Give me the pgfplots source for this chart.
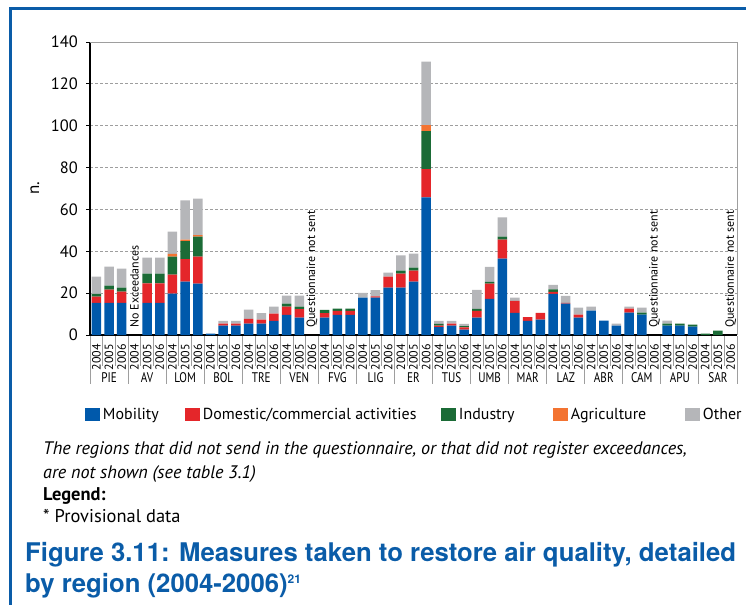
\documentclass[border=0pt]{standalone}
\usepackage{pgfplots}
\pgfplotsset{compat=1.18}
\usepackage{pgfplotstable}
\usepackage{fontspec}
\setmainfont{PT Sans}
\newfontfamily\capfont{TeX Gyre Heros}
\newfontfamily\condfont{PT Sans}[FakeStretch=0.8]
\definecolor{mob}{HTML}{0059AB}
\definecolor{dom}{HTML}{E4262A}
\definecolor{ind}{HTML}{1B6B36}
\definecolor{agr}{HTML}{F37331}
\definecolor{oth}{HTML}{B5B6B9}
\definecolor{capblue}{HTML}{0A5CA8}
\definecolor{sep}{HTML}{9E9E9E}

\pgfplotstableread{
x mob dom ind agr oth
0 15.3 3.0 1.3 0 8.3
1 15.3 6.4 1.9 0 9.1
2 15.3 5.4 1.9 0 9.1
3 0 0 0 0 0
4 15.3 9.4 4.6 0 7.7
5 15.3 9.4 4.6 0 7.7
6 19.8 9.1 8.6 1.3 10.6
7 25.5 10.7 8.6 0.8 18.7
8 24.6 12.9 9.5 0.7 17.5
9 0.6 0 0 0 0
10 4.5 0.9 0 0 1.3
11 4.5 0.9 0 0 1.3
12 5.4 2.3 0 0 4.4
13 5.4 1.9 0 0 3.2
14 6.7 3.5 0 0 3.4
15 9.6 4.0 1.4 0 3.8
16 8.3 4.1 1.2 0 5.2
17 0 0 0 0 0
18 8.3 2.2 1.5 0 0
19 9.6 1.9 1.1 0 0
20 9.6 1.9 1.1 0 0
21 17.9 0 0 0 2.2
22 17.9 0.6 0 0 3.0
23 22.6 5.3 0 0 1.9
24 22.6 6.7 1.5 0 7.2
25 25.5 5.3 1.4 0 6.7
26 65.8 13.4 18.2 2.9 30.3
27 3.8 0.7 0.8 0 1.4
28 4.5 0.9 0 0 1.3
29 2.6 1.1 0.6 0 1.0
30 8.3 3.2 1.0 0 9.1
31 17.3 7.3 0.8 0 7.2
32 36.5 9.1 1.4 0 9.2
33 10.6 5.7 0 0 1.6
34 6.7 1.9 0 0 0
35 7.4 3.2 0 0 0
36 19.7 0.9 1.2 0 2.2
37 15.0 0.4 0 0 3.3
38 8.3 1.4 0 0 3.4
39 11.6 0 0 0 2.0
40 6.9 0 0 0 0
41 4.5 0 0 0 0.9
42 10.7 1.9 0 0 1.0
43 9.7 0 1.0 0 2.4
44 0 0 0 0 0
45 4.5 0 0.9 0 1.5
46 4.5 0 0.9 0 0
47 4.0 0 0.9 0 0
48 0 0 0.6 0 0
49 0 0 2.1 0 0
50 0 0 0 0 0
}\datatable

\begin{document}
\begin{tikzpicture}
\useasboundingbox (0bp,0bp) rectangle (746bp,-605bp);
\draw[capblue, line width=3bp] (10.5bp,-605bp) -- (10.5bp,-8.5bp) -- (746bp,-8.5bp);
\begin{axis}[
  at={(90bp,-335bp)}, anchor=south west,
  scale only axis, width=647bp, height=293bp,
  xmin=-0.5, xmax=50.5, ymin=0, ymax=140,
  ybar stacked, bar width=9.5bp,
  axis x line*=bottom, axis y line*=left,
  axis line style={black, line width=1.2bp},
  ytick={0,20,...,140},
  ymajorgrids, grid style={sep, dash pattern=on 3bp off 2bp, line width=0.8bp},
  ytick style={black, line width=1bp},
  tick align=outside, major tick length=4bp,
  xtick={0,...,50},
  x tick style={draw=none},
  xticklabels={2004,2005,2006,2004,2005,2006,2004,2005,2006,2004,2005,2006,2004,2005,2006,2004,2005,2006,2004,2005,2006,2004,2005,2006,2004,2005,2006,2004,2005,2006,2004,2005,2006,2004,2005,2006,2004,2005,2006,2004,2005,2006,2004,2005,2006,2004,2005,2006,2004,2005,2006},
  xticklabel style={rotate=90, anchor=east, inner sep=0pt, font=\fontsize{12}{14}\selectfont},
  xticklabel shift=5bp,
  yticklabel style={font=\fontsize{16.5}{19}\selectfont, inner sep=0pt},
  yticklabel shift=8bp,
  /pgf/number format/assume math mode=true,
  ylabel={n.},
  ylabel style={font=\fontsize{17}{20}\selectfont, at={(axis description cs:-0.085,0.5)}, anchor=center},
  clip=false,
  legend columns=5,
  legend cell align=left,
  legend image code/.code={\fill[#1] (0bp,-6.5bp) rectangle (15bp,6.5bp);},
  legend style={at={(axis description cs:-0.00773,-0.2713)}, anchor=west,
    draw=none, fill=none, inner sep=0pt, outer sep=0pt,
    nodes={inner sep=0pt}, column sep=0pt,
    font=\fontsize{16}{19}\selectfont,
    /tikz/every odd column/.append style={column sep=3bp}},
]
\addplot[fill=mob, draw=none] table[x=x,y=mob]{\datatable};
\addlegendentry{\makebox[82bp][l]{Mobility}}
\addplot[fill=dom, draw=none] table[x=x,y=dom]{\datatable};
\addlegendentry{\makebox[238bp][l]{Domestic/commercial activities}}
\addplot[fill=ind, draw=none] table[x=x,y=ind]{\datatable};
\addlegendentry{\makebox[94bp][l]{Industry}}
\addplot[fill=agr, draw=none] table[x=x,y=agr]{\datatable};
\addlegendentry{\makebox[114bp][l]{Agriculture}}
\addplot[fill=oth, draw=none] table[x=x,y=oth]{\datatable};
\addlegendentry{Other}
\draw[sep, line width=1bp] (rel axis cs:0,1) -- (rel axis cs:1,1) -- (rel axis cs:1,0);
\node[rotate=90, anchor=west, inner sep=0pt, font=\fontsize{12}{14}\selectfont] at (axis cs:3,3.4) {No Exceedances};
\node[rotate=90, anchor=west, inner sep=0pt, font=\fontsize{12}{14}\selectfont] at (axis cs:17,3.4) {Questionnaire not sent};
\node[rotate=90, anchor=west, inner sep=0pt, font=\fontsize{12}{14}\selectfont] at (axis cs:44,3.4) {Questionnaire not sent};
\node[rotate=90, anchor=west, inner sep=0pt, font=\fontsize{12}{14}\selectfont] at (axis cs:50,3.4) {Questionnaire not sent};
\end{axis}
\foreach \k in {0,...,51}{
  \pgfmathtruncatemacro\m{mod(\k,3)}
  \pgfmathsetmacro\xx{90+\k*12.6863}
  \ifnum\m=0
    \draw[sep, line width=1bp] (\xx bp,-336bp) -- (\xx bp,-384bp);
  \else
    \draw[sep, line width=0.7bp] (\xx bp,-336bp) -- (\xx bp,-366bp);
  \fi
}
\foreach \g/\n in {0/PIE,1/AV,2/LOM,3/BOL,4/TRE,5/VEN,6/FVG,7/LIG,8/ER,9/TUS,10/UMB,11/MAR,12/LAZ,13/ABR,14/CAM,15/APU,16/SAR}{
  \pgfmathsetmacro\xx{90+(3*\g+1.5)*12.6863}
  \node[anchor=base, inner sep=0pt, font=\condfont\fontsize{14}{16}\selectfont] at (\xx bp, -382bp) {\n};
}
\node[anchor=base west, inner sep=0pt, font=\itshape\fontsize{18.2}{21}\selectfont] at (43bp,-454bp) {The regions that did not send in the questionnaire, or that did not register exceedances,};
\node[anchor=base west, inner sep=0pt, font=\itshape\fontsize{18.2}{21}\selectfont] at (43bp,-478bp) {are not shown (see table 3.1)};
\node[anchor=base west, inner sep=0pt, font=\bfseries\fontsize{18.5}{21}\selectfont] at (43bp,-500bp) {Legend:};
\node[anchor=base west, inner sep=0pt, font=\fontsize{18.5}{21}\selectfont] at (43bp,-522bp) {* Provisional data};
\node[anchor=base west, inner sep=0pt, text=capblue, font=\capfont\bfseries\fontsize{25.8}{28}\selectfont] at (25bp,-561bp) {Figure 3.11: Measures taken to restore air quality, detailed};
\node[anchor=base west, inner sep=0pt, text=capblue, font=\capfont\bfseries\fontsize{25.8}{28}\selectfont] at (25bp,-592bp) {by region (2004-2006)\textsuperscript{\fontsize{12}{14}\selectfont 21}};
\end{tikzpicture}
\end{document}
